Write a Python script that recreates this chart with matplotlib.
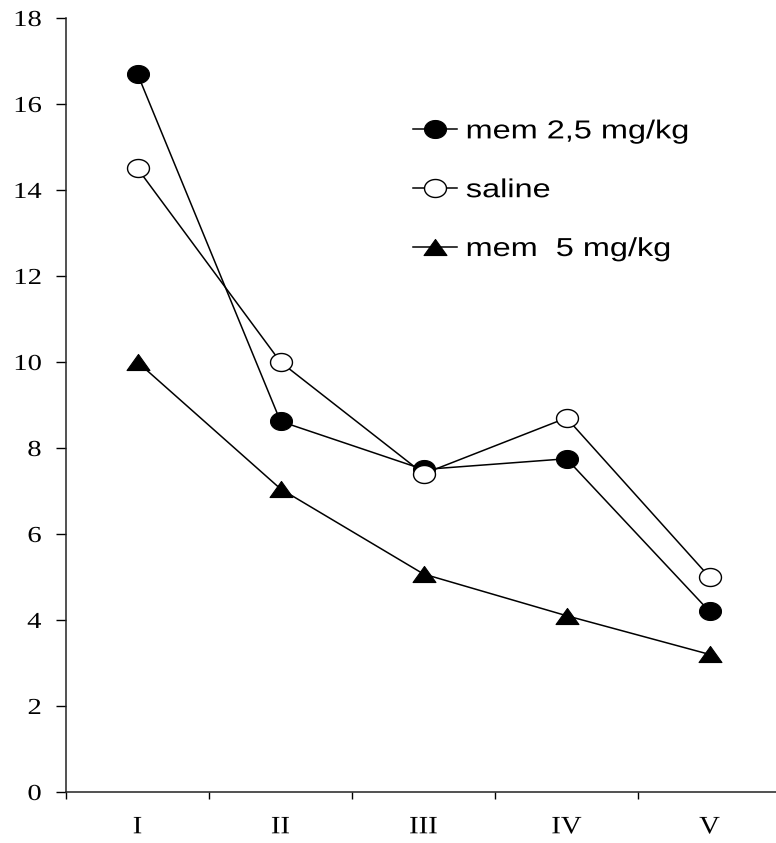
import numpy as np
import matplotlib
matplotlib.use("Agg")
import matplotlib.pyplot as plt
from matplotlib.path import Path
from matplotlib.transforms import Affine2D
from matplotlib.patheffects import AbstractPathEffect
from matplotlib.ticker import FixedLocator, NullFormatter

# Session labels and group means
sessions = ["I", "II", "III", "IV", "V"]
mem_2_5 = [16.7, 8.62, 7.5, 7.75, 4.2]
saline = [14.5, 10.0, 7.4, 8.7, 5.0]
mem_5 = [10.0, 7.05, 5.07, 4.1, 3.2]

y_ticks = [0, 2, 4, 6, 8, 10, 12, 14, 16, 18]


class HStretch(AbstractPathEffect):
    """Draw text glyphs widened horizontally about a chosen anchor."""

    def __init__(self, sx, anchor="center"):
        super().__init__()
        self.sx = sx
        self.anchor = anchor

    def draw_path(self, renderer, gc, tpath, affine, rgbFace=None):
        ext = tpath.get_extents()
        if self.anchor == "right":
            x0 = ext.x1
        elif self.anchor == "left":
            x0 = ext.x0
        else:
            x0 = 0.5 * (ext.x0 + ext.x1)
        t = Affine2D().translate(-x0, 0).scale(self.sx, 1.0).translate(x0, 0)
        renderer.draw_path(gc, tpath, t + affine, rgbFace)


# Slightly flattened circle and wide triangle markers
theta = np.linspace(0, 2 * np.pi, 72)
ellipse = Path(np.column_stack([np.cos(theta), 0.82 * np.sin(theta)]), closed=True)
wide_tri = Path([(-1.0, -0.7), (1.0, -0.7), (0.0, 0.7), (-1.0, -0.7)], closed=True)

fig = plt.figure(figsize=(7.76, 8.43), dpi=100)
ax = fig.add_axes([66 / 776, 51 / 843, 715 / 776, 774 / 843])

x = np.arange(1, len(sessions) + 1)
lw = 1.1
ax.plot(x, mem_2_5, color="black", lw=lw, marker=ellipse, ms=15.8,
        mfc="black", mec="black", mew=0.8, label="mem 2,5 mg/kg", zorder=3)
ax.plot(x, saline, color="black", lw=lw, marker=ellipse, ms=15.8,
        mfc="white", mec="black", mew=1.0, label="saline", zorder=3)
ax.plot(x, mem_5, color="black", lw=lw, marker=wide_tri, ms=16.5,
        mfc="black", mec="black", mew=0.8, label="mem  5 mg/kg", zorder=3)

ax.set_xlim(0.5, 5.5)
ax.set_ylim(0, 18)

for side in ("top", "right"):
    ax.spines[side].set_visible(False)
for side in ("left", "bottom"):
    ax.spines[side].set_linewidth(1.1)
    ax.spines[side].set_color("#222222")

ax.set_yticks(y_ticks)
ax.set_yticklabels([str(v) for v in y_ticks], fontfamily="Liberation Serif",
                   fontsize=16.5, path_effects=[HStretch(1.25, "right")])
ax.tick_params(axis="y", direction="out", length=7.2, width=1.0, pad=10.5, colors="black")

# Tick marks at category boundaries, labels at category centres
ax.xaxis.set_major_locator(FixedLocator(np.arange(0.5, 6.0, 1.0)))
ax.xaxis.set_major_formatter(NullFormatter())
ax.xaxis.set_minor_locator(FixedLocator(x))
ax.set_xticklabels(sessions, minor=True, fontfamily="Liberation Serif", fontsize=18,
                   path_effects=[HStretch(1.15, "center")])
ax.tick_params(axis="x", which="major", direction="out", length=5.2, width=1.0)
ax.tick_params(axis="x", which="minor", length=0, pad=17.5)

leg = ax.legend(loc="upper left", bbox_to_anchor=(0.485, 0.869), frameon=False,
                prop={"family": "Liberation Sans", "size": 18.7},
                handlelength=1.7, handletextpad=0.35, labelspacing=1.34,
                borderpad=0, borderaxespad=0)
for t in leg.get_texts():
    t.set_path_effects([HStretch(1.25, "left")])

fig.savefig("out.png", dpi=100)
